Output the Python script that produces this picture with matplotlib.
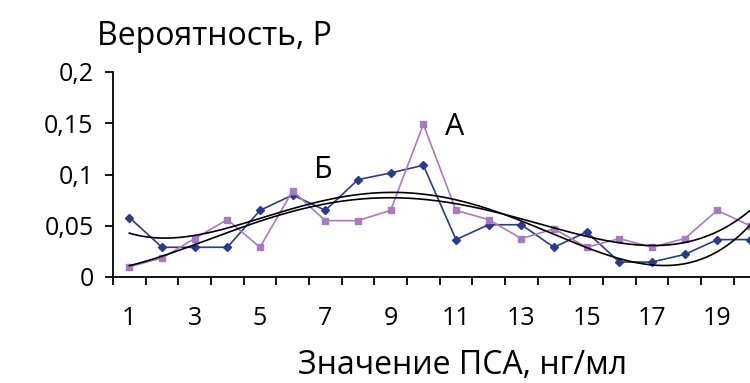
import numpy as np
import matplotlib.pyplot as plt

plt.rcParams['font.family'] = ['Open Sans', 'DejaVu Sans']

psa = np.arange(1, 21)
p_a = [0.058, 0.029, 0.029, 0.029, 0.065, 0.080, 0.065, 0.095, 0.1015, 0.109,
       0.0365, 0.051, 0.051, 0.029, 0.044, 0.0146, 0.0146, 0.022, 0.0365, 0.0365]
p_b = [0.010, 0.0185, 0.0375, 0.056, 0.029, 0.084, 0.055, 0.055, 0.065, 0.149,
       0.065, 0.056, 0.0375, 0.047, 0.029, 0.0375, 0.029, 0.0375, 0.065, 0.050]
xticklabels = ['1', '', '3', '', '5', '', '7', '', '9', '', '11', '', '13', '', '15', '', '17', '', '19', '']
yticks = [0, 0.05, 0.1, 0.15, 0.2]
yticklabels = ['0', '0,05', '0,1', '0,15', '0,2']

blue = '#2b3a8c'
purple = '#a47cc2'

fig = plt.figure(figsize=(7.5, 3.83), dpi=100)
ax = fig.add_axes([113/750, 106/383, 637/750, 205/383])

ax.plot(psa, p_a, color=blue, lw=1.2, marker='D', ms=4.5)
ax.plot(psa, p_b, color=purple, lw=1.2, marker='s', ms=5)

# polynomial trend lines (4th order), as in the source chart
xx = np.linspace(1, 20, 300)
for ser in (p_a, p_b):
    c = np.polyfit(psa, ser, 4)
    ax.plot(xx, np.polyval(c, xx), color='black', lw=1.2)

ax.set_xlim(0.5, 19.85)
ax.set_ylim(0, 0.2)
ax.set_xticks(psa - 0.5, minor=True)
ax.set_xticks(psa)
ax.set_xticklabels(xticklabels)
ax.tick_params(axis='x', which='major', length=0, pad=21, labelsize=18)
ax.tick_params(axis='x', which='minor', length=6, width=1.3, direction='out')
ax.set_yticks(yticks)
ax.set_yticklabels(yticklabels)
ax.tick_params(axis='y', length=6, width=1.3, direction='out', labelsize=18, pad=8)

for s in ('top', 'right'):
    ax.spines[s].set_visible(False)
for s in ('left', 'bottom'):
    ax.spines[s].set_linewidth(1.3)

ax.text(6.95, 0.104, 'Б', fontsize=22, ha='center', va='center')
ax.text(10.96, 0.146, 'А', fontsize=22, ha='center', va='center')

fig.text(97/750, 1 - 45/383, 'Вероятность, Р', fontsize=23, ha='left', va='baseline')
fig.text(463/750, 1 - 374/383, 'Значение ПСА, нг/мл', fontsize=23, ha='center', va='baseline')

fig.savefig('out.png', dpi=100)
